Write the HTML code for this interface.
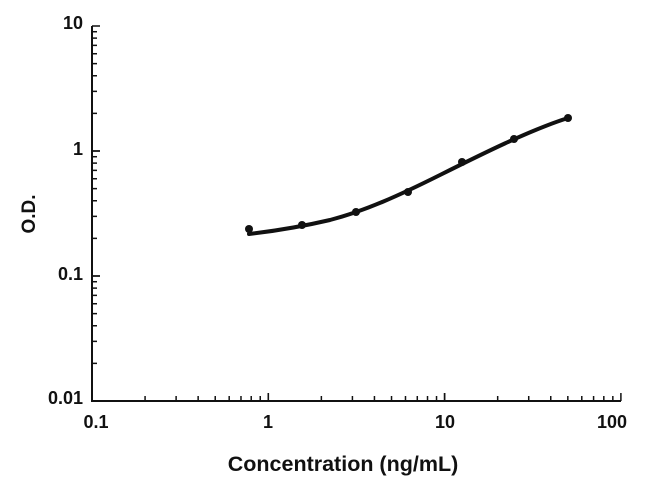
<!DOCTYPE html>
<html><head><meta charset="utf-8"><style>
body{margin:0;background:#fff}
svg{display:block}
text{font-family:"Liberation Sans",Arial,sans-serif;font-weight:bold;fill:#111}
</style></head><body>
<svg id="s" width="650" height="491" viewBox="0 0 650 491" xmlns="http://www.w3.org/2000/svg">
<g id="ax" stroke="#111" stroke-width="2" fill="none">
<line x1="92" y1="26" x2="92" y2="401"/>
<line x1="91" y1="401" x2="621" y2="401"/>
</g>
<g font-size="18">
<text x="83" y="29" text-anchor="end">10</text>
<text x="83" y="155" text-anchor="end">1</text>
<text x="83" y="280" text-anchor="end">0.1</text>
<text x="83" y="404" text-anchor="end">0.01</text>
<text x="96" y="428" text-anchor="middle">0.1</text>
<text x="268" y="428" text-anchor="middle">1</text>
<text x="445" y="428" text-anchor="middle">10</text>
<text x="612" y="428" text-anchor="middle">100</text>
</g>
<text x="343" y="471" font-size="21.5" text-anchor="middle">Concentration (ng/mL)</text>
<text transform="translate(35,214) rotate(-90)" font-size="19" text-anchor="middle">O.D.</text>
<path d="M249,234 C275,231 300,227 330,220 C365,211 400,195 440,175 C480,155 530,130 568,118" stroke="#111" stroke-width="4" fill="none" stroke-linecap="round"/>
<g fill="#111">
<circle cx="249" cy="229" r="4"/><circle cx="302" cy="225" r="4"/><circle cx="356" cy="212" r="4"/>
<circle cx="408" cy="192" r="4"/><circle cx="462" cy="162" r="4"/><circle cx="514" cy="139" r="4"/><circle cx="568" cy="118" r="4"/>
</g>
</svg>
<script>
var g=document.getElementById('ax'),ns='http://www.w3.org/2000/svg';
function L(a,b,c,d){var l=document.createElementNS(ns,'line');l.setAttribute('x1',a);l.setAttribute('y1',b);l.setAttribute('x2',c);l.setAttribute('y2',d);l.setAttribute('stroke-width','1.5');g.appendChild(l);}
for(var d=0;d<3;d++)for(var k=1;k<=10;k++){
 var y=401-125*(d+Math.log10(k));var len=(k==1||k==10)?8:5;L(92,y,92+len,y);}
for(var d=0;d<3;d++)for(var k=1;k<=10;k++){
 var x=92+176.3*(d+Math.log10(k));var len=(k==1||k==10)?8:5;L(x,401,x,401-len);}
</script>
</body></html>
